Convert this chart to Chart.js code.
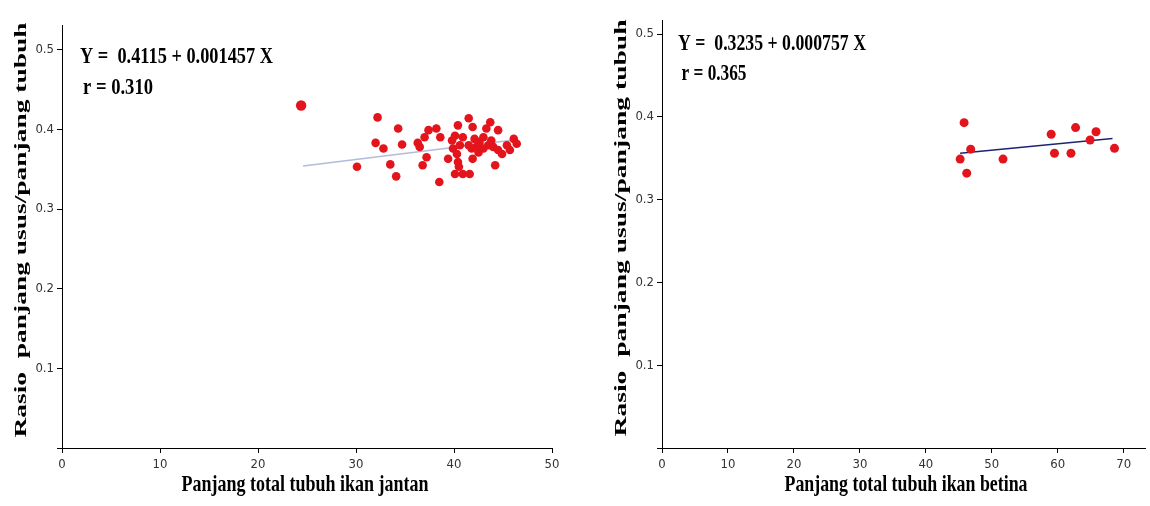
<!DOCTYPE html>
<html>
<head>
<meta charset="utf-8">
<script src="https://cdn.jsdelivr.net/npm/chart.js@4/dist/chart.umd.min.js"></script>
<style>
  body { margin: 0; background: #fff; }
  #wrap { display: flex; width: 1150px; height: 506px; }
  canvas { display: block; }
</style>
</head>
<body>
<div id="wrap">
  <canvas id="jantan" width="600" height="506"></canvas>
  <canvas id="betina" width="550" height="506"></canvas>
</div>
<script>
// === DATA: ikan jantan (kiri) ===
const jantanPanjang = [24.4, 32.2, 34.3, 32.0, 32.8, 34.7, 30.1, 33.5, 34.1, 36.3,
  36.5, 37.0, 37.4, 38.2, 38.6, 37.2, 36.8, 38.5, 39.4, 39.8,
  40.1, 40.4, 39.9, 40.6, 40.3, 40.4, 40.1, 40.9, 41.6, 40.5,
  40.9, 41.5, 41.9, 42.1, 41.9, 42.3, 42.6, 43.0, 43.3, 43.7,
  43.5, 43.8, 44.0, 44.5, 44.2, 44.5, 44.9, 45.4, 45.7, 46.1,
  46.4, 42.5, 43.0, 41.8, 41.5];
const jantanRasio = [0.430, 0.415, 0.401, 0.383, 0.376, 0.381, 0.353, 0.356, 0.341, 0.383,
  0.378, 0.390, 0.399, 0.401, 0.390, 0.365, 0.355, 0.334, 0.363, 0.386,
  0.392, 0.405, 0.376, 0.380, 0.369, 0.359, 0.344, 0.344, 0.344, 0.353,
  0.390, 0.414, 0.403, 0.388, 0.363, 0.378, 0.384, 0.390, 0.401, 0.409,
  0.380, 0.386, 0.378, 0.399, 0.355, 0.374, 0.369, 0.380, 0.374, 0.388,
  0.382, 0.371, 0.376, 0.376, 0.380];
const jantanGarisX = [24.6, 46.3];
const jantanGarisY = [0.354, 0.387];

// === DATA: ikan betina (kanan) ===
const betinaPanjang = [45.8, 46.8, 45.2, 46.2, 51.7, 59.0, 59.5, 62.7, 62.0, 64.9, 65.8, 68.6];
const betinaRasio = [0.393, 0.361, 0.349, 0.332, 0.349, 0.379, 0.356, 0.387, 0.356, 0.372, 0.382, 0.362];
const betinaGarisX = [45.2, 68.3];
const betinaGarisY = [0.356, 0.374];

// === TICKS ===
const yTicks = [0, 0.1, 0.2, 0.3, 0.4, 0.5];
const xTicksJantan = [0, 10, 20, 30, 40, 50];
const xTicksBetina = [0, 10, 20, 30, 40, 50, 60, 70];

const yJudul = "Rasio  panjang usus/panjang tubuh";
const xJudulJantan = "Panjang total tubuh ikan jantan";
const xJudulBetina = "Panjang total tubuh ikan betina";

const MERAH = "#e3141b";
const SERIF = '"Liberation Serif", "Times New Roman", serif';
const TICKFONT = '"DejaVu Sans Condensed", "Liberation Sans", sans-serif';

// teks tebal serif, dipaskan ke lebar tertentu
function tulis(ctx, t) {
  ctx.save();
  ctx.font = "bold " + t.size + "px " + SERIF;
  ctx.fillStyle = "#000";
  ctx.textAlign = "center";
  ctx.textBaseline = "middle";
  const w = ctx.measureText(t.text).width;
  ctx.translate(t.cx, t.cy);
  if (t.rotate) ctx.rotate(-Math.PI / 2);
  ctx.scale(t.width / w, t.squash || 1);
  ctx.fillText(t.text, 0, 0);
  ctx.restore();
}

function teksPlugin(items) {
  return {
    id: "teks",
    afterDraw(chart) {
      items.forEach(t => tulis(chart.ctx, t));
    }
  };
}

function titik(xs, ys) {
  return xs.map((x, i) => ({ x: x, y: ys[i] }));
}

function buatChart(id, cfg) {
  const ctx = document.getElementById(id).getContext("2d");
  return new Chart(ctx, {
    type: "scatter",
    data: {
      datasets: [
        {
          data: titik(cfg.xs, cfg.ys),
          backgroundColor: MERAH,
          borderColor: MERAH,
          borderWidth: 0,
          pointRadius: c => (cfg.bigFirst && c.dataIndex === 0 ? 5.2 : cfg.radius),
          order: 1
        },
        {
          type: "line",
          data: titik(cfg.lineX, cfg.lineY),
          borderColor: cfg.lineColor,
          borderWidth: 1.5,
          pointRadius: 0,
          fill: false,
          order: 2
        }
      ]
    },
    options: {
      responsive: false,
      animation: false,
      devicePixelRatio: 1,
      layout: { padding: { top: cfg.top, right: cfg.right, left: 0, bottom: 0 } },
      plugins: { legend: { display: false }, tooltip: { enabled: false } },
      scales: {
        x: {
          type: "linear",
          min: 0,
          max: cfg.xMax,
          afterBuildTicks: s => { s.ticks = cfg.xTicks.map(v => ({ value: v })); },
          afterFit: s => { s.height = 58; },
          grid: { drawOnChartArea: false, color: "#000", tickLength: 5 },
          border: { color: "#000", width: 1 },
          ticks: { color: "#333", padding: 4, font: { family: TICKFONT, size: 13 } }
        },
        y: {
          type: "linear",
          min: 0,
          max: cfg.yMax,
          afterBuildTicks: s => { s.ticks = yTicks.map(v => ({ value: v })); },
          afterFit: s => { s.width = 62; },
          grid: { drawOnChartArea: false, color: "#000", tickLength: 5 },
          border: { color: "#000", width: 1 },
          ticks: {
            color: "#333",
            padding: 3,
            font: { family: TICKFONT, size: 13 },
            callback: v => (v === 0 ? "" : v.toFixed(1))
          }
        }
      }
    },
    plugins: [teksPlugin(cfg.texts)]
  });
}

buatChart("jantan", {
  xs: jantanPanjang, ys: jantanRasio, radius: 4.3, bigFirst: true,
  lineX: jantanGarisX, lineY: jantanGarisY, lineColor: "#b3bbdb",
  xMax: 50, yMax: 0.531, xTicks: xTicksJantan, top: 25, right: 48,
  texts: [
    { text: "Y =  0.4115 + 0.001457 X", size: 23, width: 193, cx: 176.5, cy: 57 },
    { text: "r = 0.310", size: 23, width: 70, cx: 118, cy: 88 },
    { text: xJudulJantan, size: 23, width: 247, cx: 305, cy: 485 },
    { text: yJudul, size: 22, width: 415, cx: 21, cy: 230, rotate: true, squash: 0.8 }
  ]
});

buatChart("betina", {
  xs: betinaPanjang, ys: betinaRasio, radius: 4.5, bigFirst: false,
  lineX: betinaGarisX, lineY: betinaGarisY, lineColor: "#1c2470",
  xMax: 73.3, yMax: 0.517, xTicks: xTicksBetina, top: 20, right: 0,
  texts: [
    { text: "Y =  0.3235 + 0.000757 X", size: 23, width: 188, cx: 172, cy: 44 },
    { text: "r = 0.365", size: 23, width: 65, cx: 114, cy: 74 },
    { text: xJudulBetina, size: 23, width: 243, cx: 306, cy: 485 },
    { text: yJudul, size: 22, width: 417, cx: 21, cy: 228, rotate: true, squash: 0.8 }
  ]
});
</script>
</body>
</html>
